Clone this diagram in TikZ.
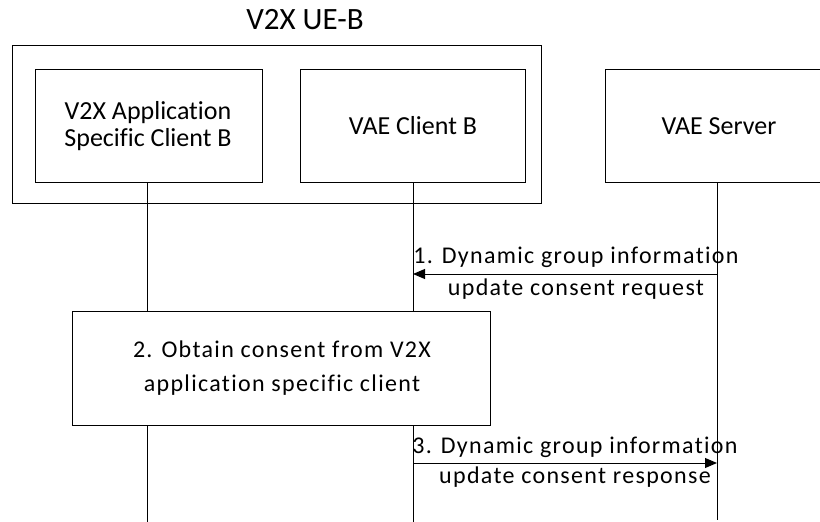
\documentclass[tikz,border=0pt]{standalone}
\usepackage{fontspec}
\setmainfont[Ligatures={NoCommon}]{Carlito}
\newfontfamily\spaced[LetterSpace=5.5,Ligatures={NoCommon}]{Carlito}
\usetikzlibrary{arrows.meta}
\begin{document}
\begin{tikzpicture}[x=1pt,y=-1pt,
  every node/.style={inner sep=0pt, outer sep=0pt},
  ent/.style={draw, line width=1pt, minimum width=#1, minimum height=113pt},
  etxt/.style={align=center, font=\fontsize{26}{27}\selectfont, anchor=base},
  proc/.style={draw, line width=1pt},
  life/.style={line width=1pt},
  msg/.style={line width=1pt, -{Triangle[length=12pt,width=10pt]}},
  lbl/.style={font=\spaced\fontsize{24}{32}\selectfont, align=center, anchor=base},
  line width=1pt]
\useasboundingbox (0,0) rectangle (820,522);
\clip (0,0) rectangle (820,522);
\node[anchor=base] (title) at (305,30) {\fontsize{31}{36}\selectfont V2X UE-B};
\draw (12,45) rectangle (541,203);
\node[ent=227pt] (a) at (148.5,125.5) {};
\node[etxt] (at) at (148,146) {V2X Application\\Specific Client B};
\node[ent=225pt] (b) at (412.5,125.5) {};
\node[etxt] (bt) at (413,134) {VAE Client B};
\node[minimum width=232pt, minimum height=113pt] (s) at (721,125.5) {};
\draw (s.north east) -- (s.north west) -- (s.south west) -- (s.south east);
\node[etxt] (st) at (719,134) {VAE Server};
\coordinate (a1) at (147,182);
\coordinate (b1) at (413,182);
\coordinate (s1) at (717,182);
\node[proc, minimum width=418pt, minimum height=114pt] (p) at (281,368) {};
\node[lbl, font=\spaced\fontsize{24}{34}\selectfont] (pt) at (282,391) {2. Obtain consent from V2X\\application specific client};
\coordinate (aend) at (147,522);
\coordinate (bend) at (413,522);
\coordinate (send) at (717,520);
\draw[life] (a1) -- (a1 |- p.north);
\draw[life] (a1 |- p.south) -- (aend);
\draw[life] (b1) -- (b1 |- p.north);
\draw[life] (b1 |- p.south) -- (bend);
\draw[life] (s1) -- (send);
\coordinate (m1s) at (717,274);
\coordinate (m1e) at (413,274);
\draw[msg] (m1s) -- (m1e);
\node[lbl] (l1) at (576,295) {1. Dynamic group information\\update consent request};
\coordinate (m3s) at (413,463);
\coordinate (m3e) at (717,463);
\draw[msg] (m3s) -- (m3e);
\node[lbl, font=\spaced\fontsize{24}{30}\selectfont] (l3) at (575,483) {3. Dynamic group information\\update consent response};
\end{tikzpicture}
\end{document}
